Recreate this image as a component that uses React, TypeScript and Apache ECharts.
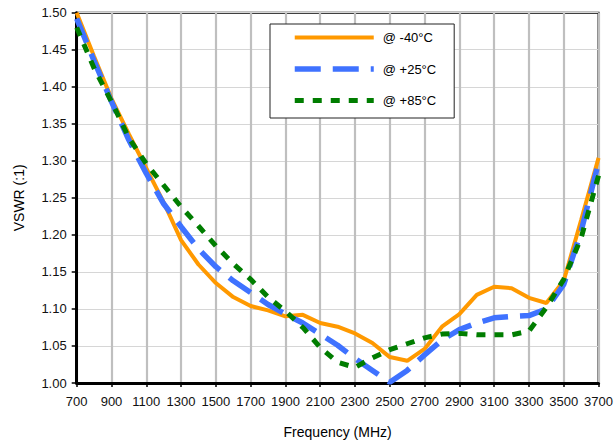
import React, { useEffect, useRef } from 'react';
import * as echarts from 'echarts';

const freqs = [700, 800, 900, 1000, 1100, 1200, 1300, 1400, 1500, 1600, 1700, 1800, 1900, 2000, 2100, 2200, 2300, 2400, 2500, 2600, 2700, 2800, 2900, 3000, 3100, 3200, 3300, 3400, 3500, 3600, 3700];
const vswrMinus40 = [1.500, 1.441, 1.384, 1.336, 1.290, 1.244, 1.193, 1.160, 1.135, 1.116, 1.104, 1.098, 1.090, 1.092, 1.081, 1.076, 1.067, 1.054, 1.035, 1.030, 1.046, 1.076, 1.093, 1.119, 1.130, 1.128, 1.115, 1.108, 1.138, 1.220, 1.304];
const vswrPlus25 = [1.492, 1.435, 1.380, 1.328, 1.283, 1.242, 1.211, 1.181, 1.157, 1.138, 1.122, 1.106, 1.093, 1.081, 1.066, 1.051, 1.033, 1.017, 1.001, 1.017, 1.038, 1.058, 1.072, 1.081, 1.088, 1.090, 1.091, 1.100, 1.133, 1.205, 1.298];
const vswrPlus85 = [1.480, 1.425, 1.380, 1.331, 1.296, 1.267, 1.238, 1.212, 1.185, 1.161, 1.140, 1.116, 1.097, 1.075, 1.048, 1.028, 1.021, 1.034, 1.045, 1.053, 1.061, 1.066, 1.067, 1.065, 1.065, 1.065, 1.070, 1.102, 1.140, 1.196, 1.280];
const xTicks = [700, 900, 1100, 1300, 1500, 1700, 1900, 2100, 2300, 2500, 2700, 2900, 3100, 3300, 3500, 3700];
const seriesNames = ['@ -40°C', '@ +25°C', '@ +85°C'];

const FONT = '"Liberation Sans", Arial, sans-serif';

export default function App() {
  const ref = useRef<HTMLDivElement>(null);
  useEffect(() => {
    const chart = echarts.init(ref.current!, null, { renderer: 'svg' });
    const pairs = (vals: number[]) => freqs.map((f, i) => [f, vals[i]]);
    chart.setOption({
      animation: false,
      textStyle: { fontFamily: FONT },
      grid: {
        left: 76.7,
        right: 15,
        top: 12.7,
        bottom: 60.7,
        show: true,
        borderColor: '#000',
        borderWidth: 2,
        backgroundColor: 'transparent',
      },
      legend: {
        orient: 'vertical',
        left: 270,
        top: 24,
        data: seriesNames,
        itemWidth: 79,
        itemHeight: 14,
        itemGap: 18.5,
        padding: [7, 18, 11, 22],
        borderColor: '#222',
        borderWidth: 1,
        backgroundColor: '#fff',
        itemStyle: { opacity: 0 },
        lineStyle: { width: 'inherit' },
        textStyle: { fontSize: 13, color: '#000', fontFamily: FONT, padding: [0, 0, 0, 4] },
      },
      xAxis: {
        type: 'value',
        min: 700,
        max: 3700,
        name: 'Frequency (MHz)',
        nameLocation: 'middle',
        nameGap: 42,
        nameTextStyle: { fontSize: 14, color: '#000', fontFamily: FONT, verticalAlign: 'top' },
        axisLine: { show: true, lineStyle: { color: '#000', width: 3 } },
        axisTick: { show: true, inside: false, length: 4, lineStyle: { color: '#000', width: 1.5 }, customValues: xTicks },
        axisLabel: { fontSize: 13, color: '#111', margin: 12, customValues: xTicks, formatter: (v: number) => String(v) },
        splitLine: { show: true, lineStyle: { color: '#bfbfbf', width: 2.2 } },
      },
      yAxis: {
        type: 'value',
        min: 1.0,
        max: 1.5,
        interval: 0.05,
        name: 'VSWR (:1)',
        nameLocation: 'middle',
        nameGap: 51,
        nameTextStyle: { fontSize: 14, color: '#000', fontFamily: FONT },
        axisLine: { show: true, lineStyle: { color: '#000', width: 3 } },
        axisTick: { show: true, inside: false, length: 5, lineStyle: { color: '#000', width: 1.5 } },
        axisLabel: { fontSize: 13, color: '#111', margin: 10, formatter: (v: number) => v.toFixed(2) },
        splitLine: { show: true, lineStyle: { color: '#d6d6d6', width: 1 } },
      },
      series: [
        {
          name: seriesNames[0],
          type: 'line',
          data: pairs(vswrMinus40),
          symbol: 'none',
          color: '#ff9900',
          lineStyle: { color: '#ff9900', width: 4, type: 'solid' },
        },
        {
          name: seriesNames[1],
          type: 'line',
          data: pairs(vswrPlus25),
          symbol: 'none',
          color: '#3f72ff',
          lineStyle: { color: '#3f72ff', width: 5.5, type: [26, 12], cap: 'butt' },
        },
        {
          name: seriesNames[2],
          type: 'line',
          data: pairs(vswrPlus85),
          symbol: 'none',
          color: '#007d00',
          lineStyle: { color: '#007d00', width: 5, type: [9, 9], cap: 'butt' },
        },
      ],
    });
    return () => chart.dispose();
  }, []);
  return <div ref={ref} style={{ position: 'absolute', left: 0, top: 0, width: 616, height: 444 }} />;
}
